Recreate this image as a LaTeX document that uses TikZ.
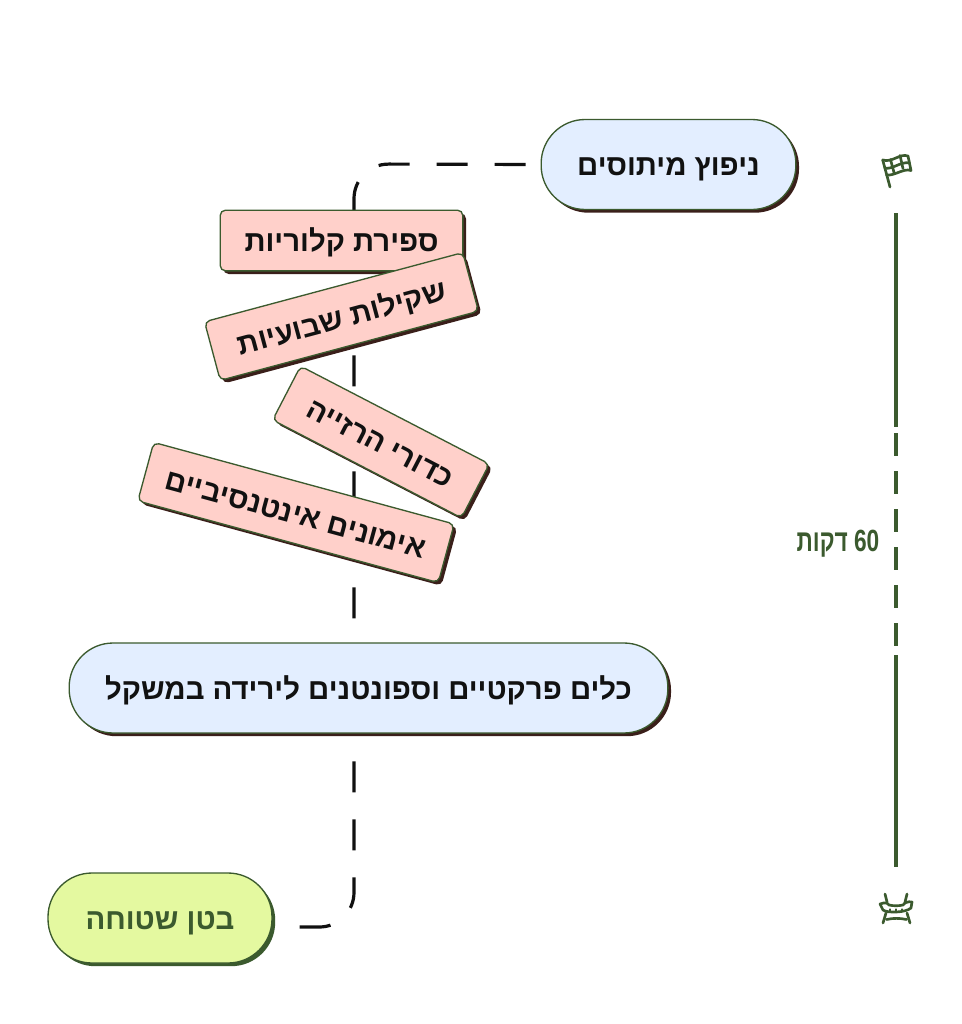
\documentclass[tikz,border=0pt]{standalone}
\usepackage{fontspec}
\usetikzlibrary{backgrounds,shadows}
\TeXXeTstate=1
\newfontfamily\hebfont[Script=Hebrew]{Liberation Sans}
\newcommand{\hb}[1]{\beginR #1\endR}
\definecolor{gr}{HTML}{3B5A2E}
\definecolor{shd}{HTML}{3A1F1A}
\definecolor{bluef}{HTML}{E3EEFF}
\definecolor{pinkf}{HTML}{FFD0CA}
\definecolor{greenf}{HTML}{E4F9A0}
\definecolor{ink}{HTML}{111111}
\tikzset{
  base/.style={draw=gr,line width=1pt,align=center,inner sep=0pt,text=ink,text height=17pt,text depth=0pt,font=\hebfont\bfseries\fontsize{22}{26}\selectfont},
  pill/.style={base,fill=bluef,rounded corners=33pt,minimum height=67.5pt,
     general shadow={fill=shd,shadow xshift=2.4pt,shadow yshift=-2.4pt}},
  pillend/.style={base,fill=greenf,text=gr,rounded corners=33pt,minimum height=67.5pt,
     general shadow={fill=gr,shadow xshift=2.4pt,shadow yshift=-2.4pt}},
  tag/.style={base,fill=pinkf,rounded corners=4pt,minimum height=45.5pt,
     general shadow={fill=shd,shadow xshift=2.4pt,shadow yshift=-2.4pt}},
  flow/.style={draw=ink,line width=2.4pt,dash pattern=on 23.25pt off 20.25pt,dash phase=32.25pt},
  rail/.style={draw=gr,line width=2.3pt},
  icon/.style={draw=gr,line width=2pt,line cap=round,line join=round},
}
\begin{document}
\begin{tikzpicture}[x=0.75pt,y=-0.75pt]
\useasboundingbox (0,0) rectangle (961,1024);
\node[pill,minimum width=191pt] (myth) at (668.5,164.5) {\hb{ניפוץ מיתוסים}};
\node[tag,minimum width=182pt] (cal) at (341.5,240.5) {\hb{ספירת קלוריות}};
\node[tag,minimum width=200.5pt,rotate=15] (weigh) at (341.5,316.5) {\hb{שקילות שבועיות}};
\node[tag,minimum width=159.5pt,rotate=-27.4] (pills) at (381,442) {\hb{כדורי הרזייה}};
\node[tag,minimum width=233.5pt,rotate=-15.2] (gym) at (296,512.5) {\hb{אימונים אינטנסיביים}};
\node[pill,minimum width=449pt] (tools) at (368.5,688) {\hb{כלים פרקטיים וספונטנים לירידה במשקל}};
\node[pillend,minimum width=168pt] (flat) at (160,918) {\hb{בטן שטוחה}};
\coordinate (c1) at (354,164);
\coordinate (c2) at (354,927);
\coordinate (c3) at (272,927);
\coordinate (t0) at (896,213);
\coordinate (t1) at (896,427);
\coordinate (t2) at (896,655);
\coordinate (t3) at (896,867);
\begin{pgfonlayer}{background}
\draw[flow] (myth.west) [rounded corners=26pt] -- (c1) -- (c2) [rounded corners=29pt] -- (c3);
\end{pgfonlayer}
\draw[rail] (t0) -- (t1);
\draw[rail,dash pattern=on 17.25pt off 11.25pt,dash phase=-4.5pt] (t1) -- (t2);
\draw[rail] (t2) -- (t3);
\node[text=gr,inner sep=0pt,font=\hebfont\bfseries\fontsize{23}{27}\selectfont] (dur) at (838,544) {\scalebox{0.74}[1]{\beginR\beginL 60\endL{} דקות\endR}};
% flag icon
\begin{scope}[icon]
\draw (882.7,160) -- (890,187);
\draw (882.7,160) .. controls (892,163) and (900,153) .. (908,156) -- (911,170.5) .. controls (903,168) and (895,176) .. (886.5,175);
\draw (884.8,168) .. controls (892,170) and (901,161) .. (909.5,163);
\draw (890.5,159.5) -- (894,172.5);
\draw (900,155.5) -- (903,168.5);
\end{scope}
% belly icon
\begin{scope}[icon]
\draw (885,894) -- (887,902);
\draw (907,894) -- (905,902);
\draw (880,904) .. controls (885,902) and (888,903) .. (889,905) .. controls (893,906) and (899,906) .. (903,905) .. controls (904,903) and (908,901) .. (912,902) -- (911,908) .. controls (905,913) and (887,913) .. (883,910) -- cycle;
\draw (890,909.5) -- (890,911);
\draw (896,909.5) -- (896,911);
\draw (902,909.5) -- (902,911);
\draw (886,913) -- (883,923);
\draw (907,913) -- (910,923);
\draw (886.5,919.5) .. controls (893,918) and (900,918) .. (906.5,919.5);
\end{scope}
\end{tikzpicture}
\end{document}
